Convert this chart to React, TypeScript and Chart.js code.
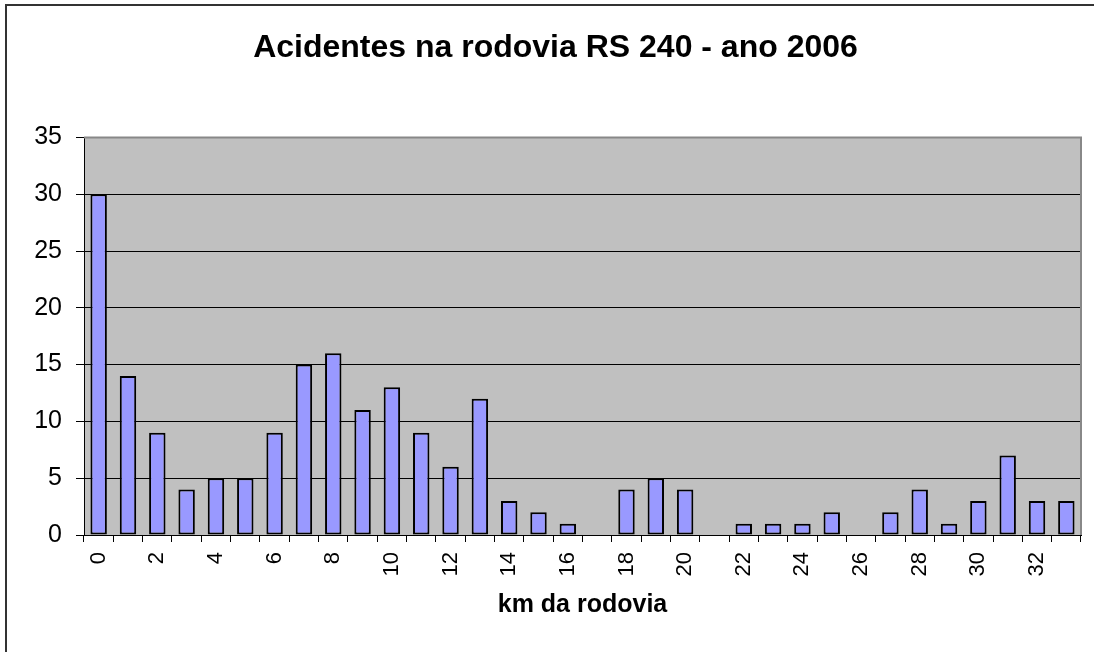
import React, { useEffect, useRef } from "react";
import { Chart, registerables } from "chart.js";

Chart.register(...registerables);

const kmLabels = [
  "0", "1", "2", "3", "4", "5", "6", "7", "8", "9", "10", "11", "12", "13", "14", "15", "16",
  "17", "18", "19", "20", "21", "22", "23", "24", "25", "26", "27", "28", "29", "30", "31", "32", "33",
];
const accidents = [
  30, 14, 9, 4, 5, 5, 9, 15, 16, 11, 13, 9, 6, 12, 3, 2, 1,
  0, 4, 5, 4, 0, 1, 1, 1, 2, 0, 2, 4, 1, 3, 7, 3, 3,
];
const yTicks = [0, 5, 10, 15, 20, 25, 30, 35];

const FONT = "'Liberation Sans', Arial, sans-serif";

export default function App() {
  const ref = useRef<HTMLCanvasElement | null>(null);

  useEffect(() => {
    if (!ref.current) return;
    const framePlugin = {
      id: "frame",
      beforeDraw(chart: any) {
        const { ctx, chartArea } = chart;
        ctx.save();
        ctx.fillStyle = "#ffffff";
        ctx.fillRect(0, 0, chart.width, chart.height);
        ctx.strokeStyle = "#333333";
        ctx.lineWidth = 2;
        ctx.beginPath();
        ctx.moveTo(6, chart.height + 2);
        ctx.lineTo(6, 5);
        ctx.lineTo(chart.width + 2, 5);
        ctx.stroke();
        ctx.fillStyle = "#c0c0c0";
        ctx.fillRect(chartArea.left, chartArea.top, chartArea.right - chartArea.left, chartArea.bottom - chartArea.top);
        ctx.restore();
      },
      afterDraw(chart: any) {
        const { ctx, chartArea } = chart;
        ctx.save();
        ctx.strokeStyle = "#888888";
        ctx.lineWidth = 2;
        ctx.beginPath();
        ctx.moveTo(chartArea.left, chartArea.top);
        ctx.lineTo(chartArea.right, chartArea.top);
        ctx.lineTo(chartArea.right, chartArea.bottom);
        ctx.stroke();
        ctx.restore();
      },
    };

    const chart = new Chart(ref.current, {
      type: "bar",
      data: {
        labels: kmLabels,
        datasets: [
          {
            data: accidents,
            backgroundColor: "#9999ff",
            borderColor: "#000000",
            borderWidth: 2,
            borderSkipped: false,
            barPercentage: 0.56,
            categoryPercentage: 1,
          },
        ],
      },
      options: {
        animation: false,
        responsive: false,
        maintainAspectRatio: false,
        layout: { padding: { left: 30, right: 13, top: 0, bottom: 0 } },
        plugins: {
          legend: { display: false },
          tooltip: { enabled: false },
          title: {
            display: true,
            text: "Acidentes na rodovia RS 240 - ano 2006",
            color: "#000000",
            font: { family: FONT, size: 32, weight: "bold" },
            padding: { top: 29, bottom: 70 },
          },
        },
        scales: {
          x: {
            grid: {
              offset: true,
              drawOnChartArea: false,
              drawTicks: true,
              tickLength: 7,
              color: "#000000",
            },
            border: { display: true, color: "#000000", width: 1 },
            ticks: {
              autoSkip: false,
              minRotation: 90,
              maxRotation: 90,
              padding: 10,
              color: "#000000",
              font: { family: FONT, size: 22 },
              callback: (_v: any, i: number) => (i % 2 === 0 ? kmLabels[i] : ""),
            },
            title: {
              display: true,
              text: "km da rodovia",
              color: "#000000",
              font: { family: FONT, size: 25, weight: "bold" },
              padding: { top: 0, bottom: 32 },
            },
            afterFit: (scale: any) => {
              scale.height = 117;
              scale.paddingLeft = 0;
              scale.paddingRight = 0;
            },
          },
          y: {
            min: 0,
            max: 35,
            afterBuildTicks: (scale: any) => {
              scale.ticks = yTicks.map((v) => ({ value: v }));
            },
            grid: {
              color: "#000000",
              lineWidth: 1,
              drawTicks: true,
              tickLength: 8,
            },
            border: { display: true, color: "#000000", width: 1 },
            ticks: {
              padding: 14,
              color: "#000000",
              font: { family: FONT, size: 25 },
            },
            afterFit: (scale: any) => {
              scale.width = 54;
              scale.paddingTop = 0;
              scale.paddingBottom = 0;
            },
          },
        },
      },
      plugins: [framePlugin],
    });
    return () => chart.destroy();
  }, []);

  return (
    <div style={{ position: "absolute", left: 0, top: 0, width: 1094, height: 652 }}>
      <canvas ref={ref} width={1094} height={652} style={{ display: "block", width: 1094, height: 652 }} />
    </div>
  );
}
